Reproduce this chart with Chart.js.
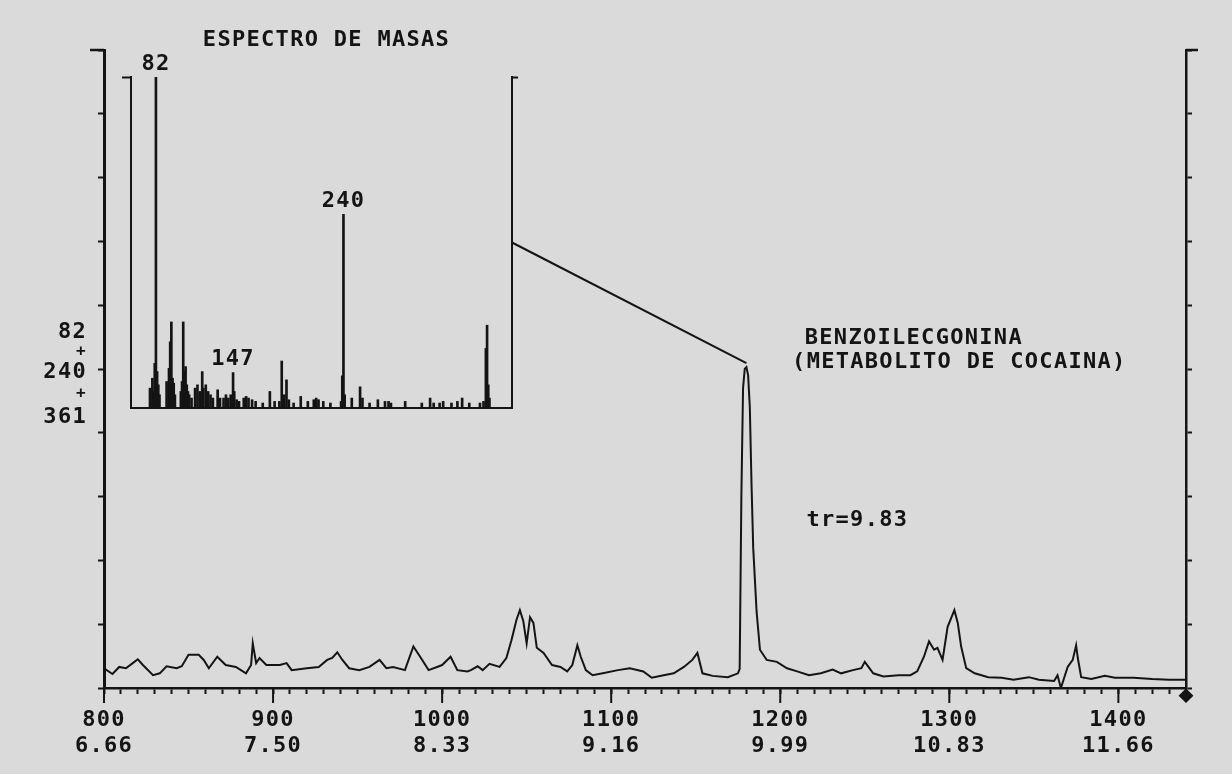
<!DOCTYPE html>
<html>
<head>
<meta charset="utf-8">
<script src="https://cdn.jsdelivr.net/npm/chart.js@4.4.1/dist/chart.umd.min.js"></script>
<style>
html,body{margin:0;padding:0;background:#dadada;}
#wrap{position:relative;width:1232px;height:774px;overflow:hidden;}
#wrap canvas{position:absolute;left:0;top:0;}
</style>
</head>
<body>
<div id="wrap">
<canvas id="tracChart" width="1232" height="774"></canvas>
<canvas id="specChart" width="1232" height="774"></canvas>
</div>
<script>
/* =====================================================
   DATA
===================================================== */

// scan number -> summed ion current (82 + 240 + 361), % of full scale
const scans = [
    800,805,809,813,817,820,823,829,833,837,843,846,850,856,859,862,867,872,878,884,
    887,888,890,892,896,904,908,911,920,927,932,935,938,941,945,951,957,963,967,971,
    978,983,987,992,997,1000,1005,1009,1015,1017,1021,1024,1028,1034,1038,1041,1044,1046,1048,1050,
    1052,1054,1056,1060,1065,1070,1074,1077,1080,1082,1085,1089,1095,1104,1111,1119,1124,1131,1137,1143,
    1148,1151,1154,1160,1169,1175,1176,1177,1178,1179,1180,1181,1182,1183,1184,1186,1188,1192,1198,1204,
    1210,1217,1224,1231,1236,1243,1248,1250,1255,1261,1270,1277,1281,1285,1288,1291,1293,1296,1299,1303,
    1305,1307,1310,1315,1323,1331,1338,1347,1353,1362,1364,1366,1370,1373,1375,1376,1378,1384,1392,1398,
    1409,1420,1430,1440
];

const counts = [
    3.1,2.2,3.3,3.1,3.9,4.5,3.6,2.0,2.3,3.4,3.1,3.4,5.2,5.2,4.4,3.1,4.9,3.6,3.3,2.3,
    3.6,7.0,3.9,4.7,3.6,3.6,3.9,2.8,3.1,3.3,4.4,4.7,5.6,4.4,3.1,2.8,3.3,4.4,3.1,3.3,
    2.8,6.5,4.9,2.8,3.3,3.6,4.9,2.8,2.6,2.8,3.4,2.8,3.8,3.3,4.7,7.5,10.7,12.2,10.5,7.0,
    11.1,10.2,6.3,5.5,3.6,3.3,2.6,3.6,6.7,4.9,2.8,2.0,2.3,2.8,3.1,2.6,1.6,2.0,2.3,3.3,
    4.4,5.5,2.3,1.9,1.7,2.3,3.0,30,47,50,50.3,49,44,32,22,12,6.0,4.4,4.1,3.1,
    2.6,2.0,2.3,2.9,2.3,2.8,3.1,4.1,2.3,1.8,2.0,2.0,2.6,4.9,7.3,6.0,6.3,4.4,9.6,12.2,
    10.2,6.5,3.1,2.3,1.7,1.6,1.3,1.7,1.3,1.1,2.0,0,3.3,4.4,6.7,4.7,1.7,1.4,1.9,1.6,
    1.6,1.4,1.3,1.3
];

// end-of-run marker under the axis
const markerScan = [1440];
const markerLevel = [-1.2];

// tick labels: scan number and retention time (min)
const scanTicks = [800,900,1000,1100,1200,1300,1400];
const timeTicks = ["6.66","7.50","8.33","9.16","9.99","10.83","11.66"];

// mass spectrum of the peak (m/z -> relative abundance %)
const massValues = [
    77,79,80,81,82,83,84,85,91,93,94,95,96,97,98,103,104,105,106,107,
    108,109,110,112,115,117,119,121,122,124,126,128,130,134,136,139,141,143,145,147,
    148,150,152,156,158,160,163,166,172,178,182,186,188,190,192,194,198,204,210,215,
    217,219,223,229,238,239,240,241,247,254,256,262,269,275,278,280,292,306,313,316,
    321,324,331,336,340,346,355,358,360,361,362,363
];

const massIntensity = [
    6,9,5,13.5,100,11,7,4,8,12,20,26,9,7.5,4,5,8,26,11,12.5,
    7,5,4,3,6,7,5,11,6,7,5,4,3,5.5,3,3,4,3,4,10.7,
    5,2.5,2,3,3.5,3,2.5,2,1.5,5,2,2,14.2,4,8.5,2.5,1.5,3.5,2,2.5,
    3,2.5,2,1.5,2,9.7,58.5,4,3,6.4,3,1.5,2.5,2,2,1.5,2,1.5,3,1.5,
    1.5,2,1.5,2,3,1.5,1.5,2,18,25,7,3
];

const massLabels = [82,240,147];

const specTitle = "ESPECTRO DE MASAS";
const ionLabel = ["82","+","240","+","361"];
const notes = ["BENZOILECGONINA","(METABOLITO DE COCAINA)","tr=9.83"];


/* =========================
   STYLE
========================= */

const INK = "#141414";
const PAPER = "#dadada";
const MONO = "'DejaVu Sans Mono', 'Liberation Mono', monospace";
const TEXT_FONT = "bold 22px " + MONO;

function drawText(ctx, s, x, y, align, font){

    ctx.save();
    ctx.font = font || TEXT_FONT;
    ctx.letterSpacing = "1.3px";
    ctx.fillStyle = INK;
    ctx.textAlign = align || "left";
    ctx.textBaseline = "middle";
    ctx.fillText(s, x, y);
    ctx.restore();

}

function drawLine(ctx, x1, y1, x2, y2, w){

    ctx.save();
    ctx.strokeStyle = INK;
    ctx.lineWidth = w || 2;
    ctx.beginPath();
    ctx.moveTo(x1, y1);
    ctx.lineTo(x2, y2);
    ctx.stroke();
    ctx.restore();

}


/* =========================
   CHROMATOGRAM
========================= */

const tracePlugin = {

    id:"traceDecor",

    beforeDraw(chart){

        const ctx = chart.ctx;
        ctx.save();
        ctx.fillStyle = PAPER;
        ctx.fillRect(0, 0, chart.width, chart.height);
        ctx.restore();
        ctx.letterSpacing = "1.3px";

    },

    afterDraw(chart){

        const ctx = chart.ctx;
        const xs = chart.scales.x;
        const ys = chart.scales.y;
        const area = chart.chartArea;

        // longer ticks at the labelled scans
        scanTicks.forEach(v => {
            const px = xs.getPixelForValue(v);
            drawLine(ctx, px, area.bottom, px, area.bottom + 15, 2);
        });

        // caps at the top of both axes
        const top = ys.getPixelForValue(100);
        drawLine(ctx, area.left - 14, top, area.left, top, 2.5);
        drawLine(ctx, area.right, top, area.right + 12, top, 2.5);

        // summed ions, centred on the 50 % tick
        const mid = ys.getPixelForValue(50);
        const offs = [-37, -17, 3, 25, 48];
        ionLabel.forEach((s, i) => {
            const f = s === "+" ? "bold 16px " + MONO : TEXT_FONT;
            drawText(ctx, s, area.left - 17, mid + offs[i], "right", f);
        });

        // peak annotation
        drawText(ctx, notes[0], xs.getPixelForValue(1214.5), ys.getPixelForValue(54.8));
        drawText(ctx, notes[1], xs.getPixelForValue(1207), ys.getPixelForValue(51.0));
        drawText(ctx, notes[2], xs.getPixelForValue(1215.5), ys.getPixelForValue(26.3));

    }

};

const tracChart = new Chart(document.getElementById("tracChart"), {

    type:"line",

    data:{
        datasets:[
            {
                data:scans.map((s, i) => ({x:s, y:counts[i]})),
                borderColor:INK,
                borderWidth:2,
                pointRadius:0,
                tension:0
            },
            {
                data:markerScan.map((s, i) => ({x:s, y:markerLevel[i]})),
                showLine:false,
                pointStyle:"rectRot",
                pointRadius:6,
                pointBorderWidth:2,
                backgroundColor:INK,
                borderColor:INK,
                clip:false
            }
        ]
    },

    options:{

        responsive:false,
        animation:false,
        events:[],

        layout:{
            padding:{top:50, left:0, right:0, bottom:0}
        },

        plugins:{
            legend:{display:false},
            tooltip:{enabled:false}
        },

        scales:{

            x:{
                type:"linear",
                position:"bottom",
                min:800,
                max:1440,
                afterFit:s => { s.height = 86; },
                grid:{
                    drawOnChartArea:false,
                    tickLength:6,
                    tickWidth:2,
                    tickColor:INK
                },
                border:{color:INK, width:2.5},
                ticks:{
                    stepSize:10,
                    autoSkip:false,
                    maxRotation:0,
                    minRotation:0,
                    padding:14,
                    color:INK,
                    font:{family:MONO, size:22, weight:"bold", lineHeight:1.15},
                    callback:value => {
                        const i = scanTicks.indexOf(value);
                        return i < 0 ? "" : [String(value), timeTicks[i]];
                    }
                }
            },

            y:{
                position:"left",
                min:0,
                max:100,
                afterFit:s => { s.width = 104; },
                grid:{
                    drawOnChartArea:false,
                    tickLength:6,
                    tickWidth:2,
                    tickColor:INK
                },
                border:{color:INK, width:3},
                ticks:{stepSize:10, display:false}
            },

            y2:{
                position:"right",
                min:0,
                max:100,
                afterFit:s => { s.width = 46; },
                grid:{
                    drawOnChartArea:false,
                    tickLength:6,
                    tickWidth:2,
                    tickColor:INK
                },
                border:{color:INK, width:2.5},
                ticks:{stepSize:10, display:false}
            }

        }

    },

    plugins:[tracePlugin]

});


/* =========================
   MASS SPECTRUM INSET
========================= */

const specPlugin = {

    id:"specDecor",

    afterDraw(chart){

        const ctx = chart.ctx;
        const xs = chart.scales.x;
        const ys = chart.scales.y;
        const area = chart.chartArea;

        drawText(ctx, specTitle, (area.left + area.right) / 2 + 5, area.top - 37, "center");

        massLabels.forEach(m => {
            const i = massValues.indexOf(m);
            const px = xs.getPixelForValue(m);
            const py = ys.getPixelForValue(massIntensity[i]);
            drawText(ctx, String(m), px, py - 13, "center");
        });

        // link from the spectrum box to the chromatographic peak
        const tx = tracChart.scales.x;
        const ty = tracChart.scales.y;
        const top = Math.max(...counts);
        const pi = counts.indexOf(top);
        drawLine(
            ctx,
            area.right, ys.getPixelForValue(50),
            tx.getPixelForValue(scans[pi]), ty.getPixelForValue(top) - 4,
            2
        );

    }

};

const capColor = c => c.tick && c.tick.value === 100 ? INK : "rgba(0,0,0,0)";

new Chart(document.getElementById("specChart"), {

    type:"bar",

    data:{
        datasets:[{
            data:massValues.map((m, i) => ({x:m, y:massIntensity[i]})),
            backgroundColor:INK,
            borderWidth:0,
            barThickness:2,
            grouped:false
        }]
    },

    options:{

        responsive:false,
        animation:false,
        events:[],

        layout:{
            padding:{top:77, left:0, right:0, bottom:0}
        },

        plugins:{
            legend:{display:false},
            tooltip:{enabled:false}
        },

        scales:{

            x:{
                type:"linear",
                position:"bottom",
                offset:false,
                min:61,
                max:382,
                afterFit:s => { s.height = 366; },
                grid:{display:false},
                border:{color:INK, width:2},
                ticks:{display:false}
            },

            y:{
                position:"left",
                min:0,
                max:100,
                afterFit:s => { s.width = 131; },
                grid:{
                    drawOnChartArea:false,
                    tickLength:9,
                    tickWidth:2,
                    tickColor:capColor
                },
                border:{color:INK, width:2},
                ticks:{stepSize:100, display:false}
            },

            y2:{
                position:"right",
                min:0,
                max:100,
                afterFit:s => { s.width = 720; },
                grid:{
                    drawOnChartArea:false,
                    tickLength:6,
                    tickWidth:2,
                    tickColor:capColor
                },
                border:{color:INK, width:2},
                ticks:{stepSize:100, display:false}
            }

        }

    },

    plugins:[specPlugin]

});
</script>
</body>
</html>
